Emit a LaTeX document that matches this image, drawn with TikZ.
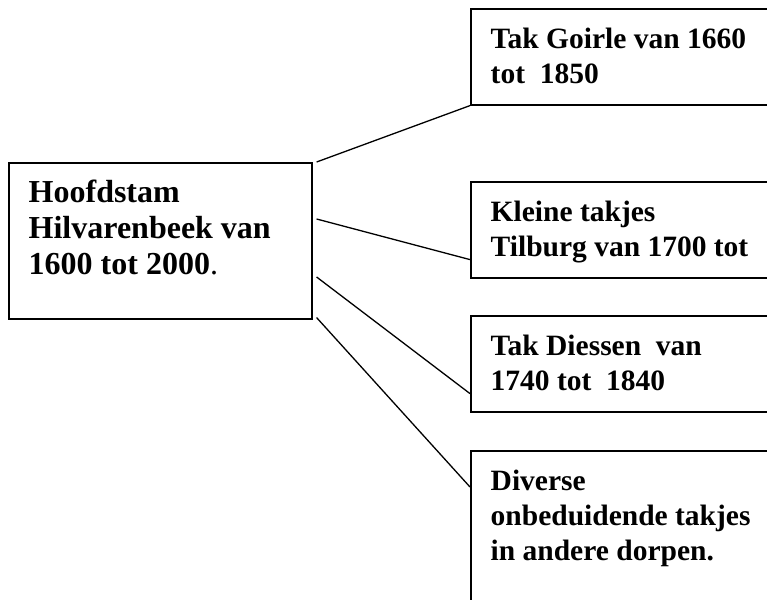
\documentclass[tikz,border=0pt]{standalone}
\usepackage{fontspec}
\setmainfont{Liberation Serif}
\usetikzlibrary{positioning}

\begin{document}
\begin{tikzpicture}[
		x=1pt, y=-1pt,
		box/.style={draw, line width=1.6pt, inner sep=0pt, anchor=north west},
		txt/.style={anchor=north west, inner sep=0pt, align=left,
			font=\fontsize{29.5}{35}\selectfont\bfseries},
		stamtxt/.style={txt, font=\fontsize{32}{36}\selectfont\bfseries},
		link/.style={line width=1.3pt},
		]
		\clip (0,0) rectangle (767,599);

		% Hoofdstam
		\node[box, minimum width=303pt, minimum height=156pt] (stam) at (8,162) {};
		\node[stamtxt] (stamlabel) at ([shift={(20.5,14.8)}]stam.north west)
		{\strut Hoofdstam\\Hilvarenbeek van\\1600 tot 2000\textmd{.}};

		% Takken
		\node[box, minimum width=400pt, minimum height=96pt] (goirle) at (470,8) {};
		\node[txt] (goirlelabel) at ([shift={(20.5,15.5)}]goirle.north west)
		{\strut Tak Goirle van 1660\\tot\ \ 1850};

		\node[box, minimum width=400pt, minimum height=96pt] (tilburg) at (470,181) {};
		\node[txt] (tilburglabel) at ([shift={(20.5,15.5)}]tilburg.north west)
		{\strut Kleine takjes\\Tilburg van 1700 tot};

		\node[box, minimum width=400pt, minimum height=96pt] (diessen) at (470,315) {};
		\node[txt] (diessenlabel) at ([shift={(20.5,15.5)}]diessen.north west)
		{\strut Tak Diessen\ \ van\\1740 tot\ \ 1840};

		\node[box, minimum width=400pt, minimum height=200pt] (diverse) at (470,450) {};
		\node[txt] (diverselabel) at ([shift={(20.5,15.5)}]diverse.north west)
		{\strut Diverse\\onbeduidende takjes\\in andere dorpen.};

		% Lijnen
		\draw[link] ([xshift=4pt]stam.north east) -- (goirle.south west);
		\draw[link] ([shift={(4,57)}]stam.north east) -- ([shift={(0,-19)}]tilburg.south west);
		\draw[link] ([shift={(4,115)}]stam.north east) -- ([shift={(0,-19)}]diessen.south west);
		\draw[link] ([shift={(4,-2)}]stam.south east) -- ([shift={(0,37)}]diverse.north west);
	\end{tikzpicture}
\end{document}
